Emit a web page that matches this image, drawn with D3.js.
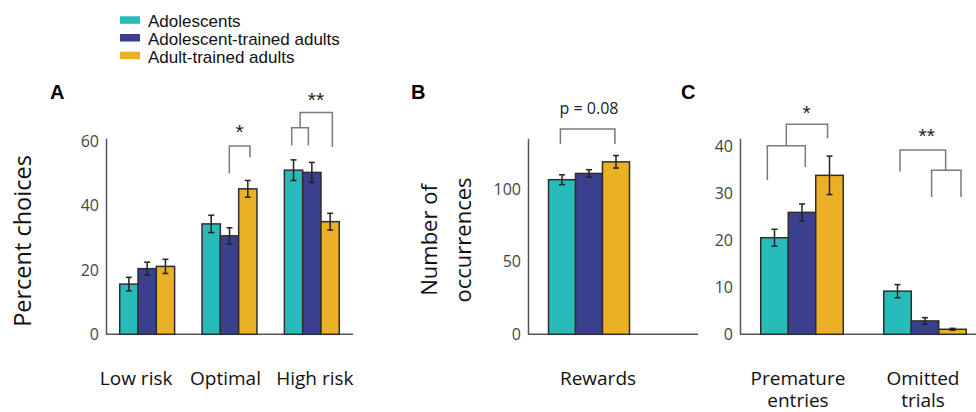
<!DOCTYPE html>
<html>
<head>
<meta charset="utf-8">
<script src="https://cdn.jsdelivr.net/npm/d3@7"></script>
<style>
  body { margin: 0; background: #fff; }
  svg { display: block; }
</style>
</head>
<body>
<div id="chart"></div>
<script>
var width = 976
var height = 412

// groups & colours
var groups = ["Adolescents", "Adolescent-trained adults", "Adult-trained adults"]
var colors = ["#27bcb9", "#3a3f8e", "#ebb023"]

// panel A
var riskCats = ["Low risk", "Optimal", "High risk"]
var riskMeans = [[15.6, 20.4, 21.1], [34.3, 30.6, 45.2], [51.0, 50.3, 35.0]]
var riskErr = [[2.1, 2.0, 2.2], [2.7, 2.5, 2.6], [3.2, 3.1, 2.6]]
var riskTicks = [0, 20, 40, 60]

// panel B
var rewardCats = ["Rewards"]
var rewardMeans = [[106.5, 110.8, 118.8]]
var rewardErr = [[3.4, 2.6, 4.3]]
var rewardTicks = [0, 50, 100]

// panel C
var trialCats = [["Premature", "entries"], ["Omitted", "trials"]]
var trialMeans = [[20.6, 26.0, 33.9], [9.2, 2.85, 1.07]]
var trialErr = [[1.8, 1.8, 4.1], [1.4, 0.7, 0.2]]
var trialTicks = [0, 10, 20, 30, 40]

// significance brackets: cat index, x in bar units, y in data units
// [cat, x1, x2, top, leftEnd, rightEnd]
var riskBrackets = [[1, 1.49, 2.62, 58.5, 50, 55], [2, 0.40, 1.31, 64.2, 58.7, 58.7], [2, 0.86, 2.62, 68.9, 64.2, 58.2]]
var riskStars = [[1, 2.05, 63.4, "*"], [2, 1.73, 73.3, "**"]]
var rewardBrackets = [[0, 0.44, 2.46, 141.4, 131, 131]]
var rewardStars = [[0, 1.5, 155.6, "p = 0.08"]]
var trialBrackets = [[0, 0.24, 1.62, 40.2, 32.9, 35.7], [0, 0.93, 2.43, 44.8, 40.2, 41.8],
                     [1, 0.59, 2.25, 39.3, 34.7, 35.0], [1, 1.74, 2.81, 35.0, 29.3, 29.3]]
var trialStars = [[0, 1.67, 47.6, "*"], [1, 1.56, 42.8, "**"]]

var svg = d3.select("#chart")
  .append("svg")
    .attr("width", width)
    .attr("height", height)

var font = "'Open Sans', 'Noto Sans', sans-serif"

// legend
var legend = svg.append("g")
legend.selectAll("rect")
  .data(groups)
  .enter().append("rect")
    .attr("x", 120)
    .attr("y", function(d, i) { return 16.3 + i * 17.7 })
    .attr("width", 20)
    .attr("height", 7.5)
    .attr("fill", function(d, i) { return colors[i] })
legend.selectAll("text")
  .data(groups)
  .enter().append("text")
    .attr("x", 148)
    .attr("y", function(d, i) { return 27.3 + i * 17.7 })
    .style("font-family", "'Liberation Sans', Arial, sans-serif")
    .style("font-size", "17px")
    .attr("fill", "#111")
    .text(function(d) { return d })

function panel(opt) {
  var g = svg.append("g")
  var y = d3.scaleLinear().domain(opt.yDomain).range([334.3, 138.3])
  var x = d3.scaleBand().domain(d3.range(opt.cats.length)).range(opt.xRange)
  var inner = d3.scaleBand().domain(d3.range(3)).range([0, opt.barW * 3])
  var left = function(c) { return x(c) + x.bandwidth() / 2 - opt.barW * 1.5 }

  // y axis
  var ax = g.append("g")
    .attr("transform", "translate(" + opt.xAxis + ",0)")
    .call(d3.axisLeft(y).tickValues(opt.ticks).tickSize(0).tickPadding(7))
  ax.select(".domain").attr("stroke", "#555").attr("stroke-width", 1.5)
  ax.selectAll("text")
    .style("font-family", font)
    .style("font-size", "16px")
    .attr("fill", "#444")

  // baseline
  g.append("line")
    .attr("x1", opt.xAxis).attr("x2", opt.xEnd)
    .attr("y1", y(0)).attr("y2", y(0))
    .attr("stroke", "#555").attr("stroke-width", 1.5)

  // bars
  opt.means.forEach(function(vals, c) {
    var bg = g.append("g").attr("transform", "translate(" + left(c) + ",0)")
    bg.selectAll("rect")
      .data(vals)
      .enter().append("rect")
        .attr("x", function(d, i) { return inner(i) })
        .attr("y", function(d) { return y(d) })
        .attr("width", inner.bandwidth())
        .attr("height", function(d) { return y(0) - y(d) })
        .attr("fill", function(d, i) { return colors[i] })
        .attr("stroke", "#2e2e2e")
        .attr("stroke-width", 1.5)
    var eb = bg.selectAll(".err")
      .data(vals)
      .enter().append("g")
        .attr("transform", function(d, i) { return "translate(" + (inner(i) + inner.bandwidth() / 2) + ",0)" })
    eb.each(function(d, i) {
      var e = opt.err[c][i]
      var s = d3.select(this)
      var lines = [[0, y(d - e), 0, y(d + e)], [-3, y(d + e), 3, y(d + e)], [-3, y(d - e), 3, y(d - e)]]
      s.selectAll("line").data(lines).enter().append("line")
        .attr("x1", function(l) { return l[0] }).attr("y1", function(l) { return l[1] })
        .attr("x2", function(l) { return l[2] }).attr("y2", function(l) { return l[3] })
        .attr("stroke", "#222").attr("stroke-width", 1.5)
    })
  })

  // brackets
  opt.brackets.forEach(function(b) {
    var x1 = left(b[0]) + b[1] * opt.barW
    var x2 = left(b[0]) + b[2] * opt.barW
    g.append("path")
      .attr("d", "M" + x1 + "," + y(b[4]) + "V" + y(b[3]) + "H" + x2 + "V" + y(b[5]))
      .attr("fill", "none")
      .attr("stroke", "#7a7a7a")
      .attr("stroke-width", 1.5)
  })
  opt.stars.forEach(function(s) {
    var isStar = s[3].indexOf("*") === 0
    g.append("text")
      .attr("x", left(s[0]) + s[1] * opt.barW)
      .attr("y", y(s[2]) + (isStar ? 9 : 0))
      .attr("text-anchor", "middle")
      .attr("dominant-baseline", isStar ? "auto" : "central")
      .style("font-family", isStar ? "'Liberation Sans', Arial, sans-serif" : font)
      .style("font-size", isStar ? "21px" : "16px")
      .attr("fill", "#222")
      .text(s[3])
  })

  // category labels
  opt.cats.forEach(function(c, i) {
    var linesTxt = Array.isArray(c) ? c : [c]
    linesTxt.forEach(function(t, k) {
      g.append("text")
        .attr("x", x(i) + x.bandwidth() / 2 + (opt.labelShift ? opt.labelShift[i] : 0))
        .attr("y", 385 + k * 22)
        .attr("text-anchor", "middle")
        .style("font-family", font)
        .style("font-size", "19px")
        .attr("fill", "#111")
        .text(t)
    })
  })

  // y label
  opt.yLabel.forEach(function(t, k) {
    g.append("text")
      .attr("transform", "translate(" + opt.yLabelX[k] + "," + opt.yLabelY + ") rotate(-90)")
      .attr("text-anchor", "middle")
      .attr("dominant-baseline", "central")
      .style("font-family", font)
      .style("font-size", opt.yLabelSize)
      .attr("fill", "#111")
      .text(t)
  })

  // panel letter
  g.append("text")
    .attr("x", opt.letterX)
    .attr("y", 99)
    .style("font-family", "'Liberation Sans', Arial, sans-serif")
    .style("font-weight", "bold")
    .style("font-size", "20px")
    .attr("fill", "#000")
    .text(opt.letter)
}

panel({
  letter: "A", letterX: 50,
  cats: riskCats, means: riskMeans, err: riskErr, ticks: riskTicks,
  yDomain: [0, 60.9], xRange: [106, 353], xAxis: 106, xEnd: 353, barW: 18.3,
  brackets: riskBrackets, stars: riskStars,
  labelShift: [-11, -4, 3],
  yLabel: ["Percent choices"], yLabelX: [22], yLabelY: 241, yLabelSize: "23.5px"
})

panel({
  letter: "B", letterX: 411,
  cats: rewardCats, means: rewardMeans, err: rewardErr, ticks: rewardTicks,
  yDomain: [0, 135], xRange: [528, 650], xAxis: 528, xEnd: 698, barW: 27,
  brackets: rewardBrackets, stars: rewardStars,
  labelShift: [9],
  yLabel: ["Number of", "occurrences"], yLabelX: [428, 462], yLabelY: 240, yLabelSize: "22px"
})

panel({
  letter: "C", letterX: 681,
  cats: trialCats, means: trialMeans, err: trialErr, ticks: trialTicks,
  yDomain: [0, 41.8], xRange: [740.5, 986.5], xAxis: 740, xEnd: 976, barW: 27.5,
  brackets: trialBrackets, stars: trialStars,
  labelShift: [-4, -2],
  yLabel: [], yLabelX: [], yLabelY: 0, yLabelSize: "22px"
})
</script>
</body>
</html>
